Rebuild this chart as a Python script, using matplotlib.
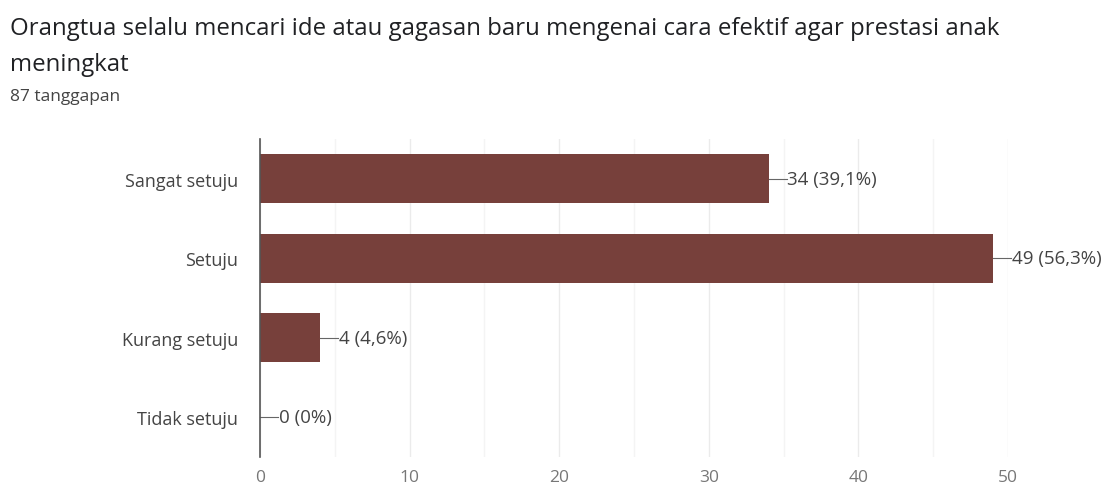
import matplotlib
matplotlib.use("Agg")
import matplotlib.pyplot as plt
from matplotlib.ticker import MultipleLocator

plt.rcParams['font.family'] = ['Open Sans', 'DejaVu Sans']

title_lines = ["Orangtua selalu mencari ide atau gagasan baru mengenai cara efektif agar prestasi anak",
               "meningkat"]
subtitle = "87 tanggapan"
categories = ["Sangat setuju", "Setuju", "Kurang setuju", "Tidak setuju"]
counts = [34, 49, 4, 0]
labels = ["34 (39,1%)", "49 (56,3%)", "4 (4,6%)", "0 (0%)"]
xticks = [0, 10, 20, 30, 40, 50]

bar_color = "#77403b"
text_color = "#444444"

fig = plt.figure(figsize=(11.06, 4.89), dpi=100)
ax = fig.add_axes([0.2351, 0.0634, 0.9114 - 0.2351, 0.7137 - 0.0634])

y = list(range(len(categories)))
ax.barh(y, counts, height=0.62, color=bar_color, zorder=3)
ax.set_ylim(len(categories) - 0.5, -0.5)
ax.set_xlim(0, 50)
ax.set_yticks(y)
ax.set_yticklabels(categories, fontsize=13, color=text_color)
ax.set_xticks(xticks)
ax.set_xticklabels([str(t) for t in xticks], fontsize=12.5, color="#777777")
ax.xaxis.set_minor_locator(MultipleLocator(5))
ax.tick_params(axis='both', which='both', length=0)
ax.tick_params(axis='y', pad=16)
ax.tick_params(axis='x', pad=9)
ax.grid(axis='x', which='major', color='#ebebeb', linewidth=1, zorder=0)
ax.grid(axis='x', which='minor', color='#f4f4f4', linewidth=1, zorder=0)
for s in ['top', 'right', 'bottom']:
    ax.spines[s].set_visible(False)
ax.spines['left'].set_color('#555555')
ax.spines['left'].set_linewidth(1.2)
ax.spines['left'].set_zorder(4)

for yi, c, lab in zip(y, counts, labels):
    ax.plot([c, c + 1.2], [yi, yi], color='#666666', linewidth=0.8, zorder=4, clip_on=False)
    ax.text(c + 1.25, yi, lab, va='center', ha='left', fontsize=13.5, color=text_color)

fig.text(0.009, 0.928, title_lines[0], fontsize=17.3, color='#202124', va='baseline', ha='left')
fig.text(0.009, 0.855, title_lines[1], fontsize=17.3, color='#202124', va='baseline', ha='left')
fig.text(0.009, 0.7935, subtitle, fontsize=12.5, color='#444444', va='baseline', ha='left')

fig.savefig("out.png", dpi=100, facecolor='white')
